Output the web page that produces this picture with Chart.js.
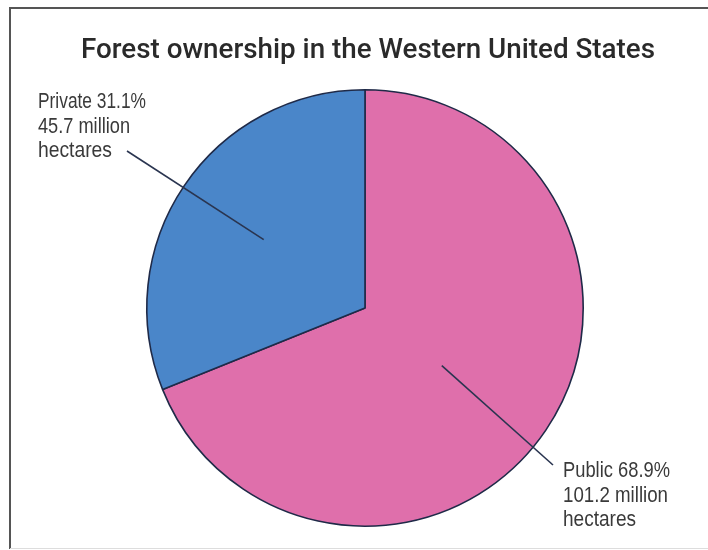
<!DOCTYPE html>
<html><head><meta charset="utf-8">
<script src="https://cdn.jsdelivr.net/npm/chart.js@4.4.1/dist/chart.umd.min.js"></script>
<style>html,body{margin:0;padding:0;background:#fff;}#wrap{width:708px;height:550px;position:relative;}</style>
</head><body><div id="wrap"><canvas id="c" width="708" height="550"></canvas></div>
<script>
const title = "Forest ownership in the Western United States";
const categories = ["Public", "Private"];
const percents = [68.9, 31.1];
const hectares = [101.2, 45.7];
const labelLines = [
  ["Public 68.9%", "101.2 million", "hectares"],
  ["Private 31.1%", "45.7 million", "hectares"]
];
const colors = ["#df6fab", "#4a86c9"];

const FONT = '"Liberation Sans", Arial, sans-serif';
const TFONT = 'Roboto, "Liberation Sans", Arial, sans-serif';

function fitText(ctx, text, x, y, targetW, font, align) {
  ctx.save();
  ctx.font = font;
  const w = ctx.measureText(text).width;
  const s = targetW / w;
  ctx.textBaseline = "alphabetic";
  ctx.textAlign = "left";
  let x0 = align === "center" ? x - targetW / 2 : x;
  ctx.translate(x0, y);
  ctx.scale(s, 1);
  ctx.fillText(text, 0, 0);
  ctx.restore();
}

const annot = {
  id: "annot",
  beforeDraw(chart) {
    const ctx = chart.ctx;
    ctx.save();
    ctx.fillStyle = "#fff";
    ctx.fillRect(0, 0, chart.width, chart.height);
    ctx.strokeStyle = "#555";
    ctx.lineWidth = 2;
    ctx.beginPath();
    ctx.moveTo(10, 549); ctx.lineTo(10, 8); ctx.lineTo(708, 8);
    ctx.stroke();
    ctx.strokeStyle = "#ddd";
    ctx.lineWidth = 1;
    ctx.beginPath(); ctx.moveTo(10, 548.5); ctx.lineTo(708, 548.5); ctx.stroke();
    ctx.restore();
  },
  afterDraw(chart) {
    const ctx = chart.ctx;
    ctx.save();
    ctx.fillStyle = "#2a2a2a";
    fitText(ctx, title, 368, 58, 574, "500 27px " + TFONT, "center");
    const meta = chart.getDatasetMeta(0);
    const cfg = [
      {frac: 0.44, tx: 563, ty: 477, end: [553, 465], widths: [107, 105, 73]},
      {frac: 0.56, tx: 38, ty: 108, end: [127, 151], widths: [108, 92, 74]}
    ];
    meta.data.forEach((arc, i) => {
      const p = arc.getProps(["x", "y", "startAngle", "endAngle", "outerRadius"], true);
      const mid = (p.startAngle + p.endAngle) / 2 + (i === 0 ? 0.05 : 0);
      const r = p.outerRadius * cfg[i].frac;
      const ix = p.x + Math.cos(mid) * r, iy = p.y + Math.sin(mid) * r;
      ctx.strokeStyle = "#2a3550";
      ctx.lineWidth = 1.6;
      ctx.beginPath();
      ctx.moveTo(ix, iy);
      ctx.lineTo(cfg[i].end[0], cfg[i].end[1]);
      ctx.stroke();
      ctx.fillStyle = "#3a3a3a";
      labelLines[i].forEach((t, k) => {
        fitText(ctx, t, cfg[i].tx, cfg[i].ty + k * 24.5, cfg[i].widths[k], "22px " + FONT, "left");
      });
    });
    ctx.restore();
  }
};

new Chart(document.getElementById("c"), {
  type: "pie",
  data: {
    labels: categories,
    datasets: [{
      data: percents,
      backgroundColor: colors,
      borderColor: "#1f2a48",
      borderWidth: 1.6
    }]
  },
  options: {
    responsive: false,
    animation: false,
    layout: {padding: {top: 89, bottom: 23, left: 22, right: 0}},
    plugins: {legend: {display: false}, tooltip: {enabled: false}, title: {display: false}}
  },
  plugins: [annot]
});
</script></body></html>
